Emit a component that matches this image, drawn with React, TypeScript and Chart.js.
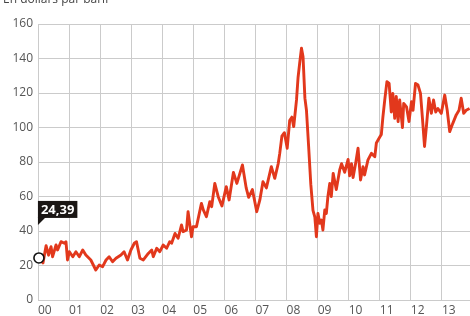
import React, { useEffect, useRef } from 'react';
import { Chart, registerables } from 'chart.js';

Chart.register(...registerables);

const unitTitle = 'En dollars par baril';
const calloutText = '24,39';
const tickLabels = ['00', '01', '02', '03', '04', '05', '06', '07', '08', '09', '10', '11', '12', '13'];
const yTicks = [0, 20, 40, 60, 80, 100, 120, 140, 160];

const yearPos = [
  2000.03, 2000.16, 2000.26, 2000.34, 2000.42, 2000.47, 2000.58, 2000.63, 2000.74, 2000.85, 2000.90, 2000.95,
  2001.01, 2001.12, 2001.22, 2001.33, 2001.44, 2001.54, 2001.70, 2001.86, 2001.97,
  2002.08, 2002.19, 2002.29, 2002.40, 2002.51, 2002.67, 2002.77, 2002.88, 2002.99,
  2003.10, 2003.17, 2003.28, 2003.39, 2003.55, 2003.66, 2003.71, 2003.82, 2003.92,
  2004.03, 2004.14, 2004.24, 2004.30, 2004.41, 2004.51, 2004.62, 2004.67, 2004.78, 2004.83, 2004.94, 2004.99,
  2005.10, 2005.26, 2005.32, 2005.42, 2005.53, 2005.59, 2005.69, 2005.80, 2005.92,
  2006.06, 2006.15, 2006.29, 2006.40, 2006.58, 2006.70, 2006.78, 2006.90, 2006.96,
  2007.04, 2007.14, 2007.24, 2007.35, 2007.51, 2007.62, 2007.73, 2007.78, 2007.85, 2007.93,
  2008.02, 2008.10, 2008.17, 2008.23, 2008.32, 2008.37, 2008.42, 2008.48, 2008.53, 2008.59, 2008.64, 2008.71, 2008.78, 2008.85, 2008.91, 2008.96,
  2009.01, 2009.07, 2009.12, 2009.17, 2009.23, 2009.28, 2009.33, 2009.39, 2009.44, 2009.50, 2009.60, 2009.71, 2009.77, 2009.87, 2009.98,
  2010.03, 2010.09, 2010.14, 2010.23, 2010.30, 2010.38, 2010.46, 2010.51, 2010.62, 2010.73, 2010.84, 2010.89,
  2011.00, 2011.05, 2011.10, 2011.16, 2011.23, 2011.30, 2011.37, 2011.42, 2011.48, 2011.53, 2011.59, 2011.64, 2011.73, 2011.77, 2011.86, 2011.94,
  2012.02, 2012.07, 2012.15, 2012.23, 2012.31, 2012.37, 2012.44, 2012.50, 2012.58, 2012.66, 2012.73, 2012.80, 2012.87, 2012.98,
  2013.09, 2013.17, 2013.25, 2013.35, 2013.46, 2013.55, 2013.62, 2013.70, 2013.78, 2013.89,
];

const prices = [
  24.39, 21.5, 31.5, 26, 30.9, 25.1, 31.9, 29, 33.8, 32.9, 33.8, 23.2,
  28, 25.1, 28, 25.1, 29, 26.1, 23.2, 17.4, 20.3,
  19.3, 23.2, 25.1, 22.2, 24.2, 26.1, 28, 23.2, 29,
  32.9, 33.8, 24.2, 23.2, 27, 29, 25.1, 30, 28,
  31.9, 30, 33.8, 32.9, 38.6, 35.8, 43.5, 39.6, 40.6, 51.2, 36.7, 42.5,
  42.5, 56, 52.2, 48.3, 57, 54.1, 67.6, 59.9, 54.5,
  65.7, 58, 74, 67.6, 78.3, 65, 59.5, 64, 58.5,
  51.2, 58, 68.6, 65, 77.3, 70.5, 79, 85, 95, 97,
  88, 104, 106, 100.5, 116, 129, 137, 146, 141, 117, 110, 89, 67, 52, 48, 36.7,
  50.2, 44.5, 46.4, 40.6, 52.2, 50.2, 59.9, 67.6, 60, 73.4, 64, 75.4, 79, 74, 81.5,
  72, 79, 71, 80, 88, 69.6, 77.3, 72.5, 81.2, 85, 83.1, 91,
  94.5, 96, 106, 116, 126.6, 125.6, 109, 119.8, 105.3, 118, 103.4, 116, 100, 114, 112, 103.4,
  115, 110, 125.6, 124.6, 119.8, 106, 89, 100.5, 117, 108.2, 116, 109, 111, 108.2,
  118.8, 110, 97.6, 102.4, 107.3, 110, 117, 108.2, 110, 111,
];

const FONT = "'Open Sans', sans-serif";
const LINE_COLOR = '#e2381c';
const GRID_COLOR = '#cbcbcb';
const TEXT_COLOR = '#555555';

const decorPlugin = {
  id: 'decor',
  afterDraw(chart: any) {
    const ctx = chart.ctx;
    const xs = chart.scales.x;
    const ys = chart.scales.y;
    ctx.save();
    // cut-off unit title at the top
    ctx.fillStyle = '#444444';
    ctx.font = `12px ${FONT}`;
    ctx.textAlign = 'left';
    ctx.textBaseline = 'alphabetic';
    ctx.fillText(unitTitle, 3, 3);

    // circle marker on first value
    const px = xs.getPixelForValue(yearPos[0]);
    const py = ys.getPixelForValue(prices[0]);
    ctx.beginPath();
    ctx.arc(px, py, 5, 0, Math.PI * 2);
    ctx.fillStyle = '#ffffff';
    ctx.fill();
    ctx.lineWidth = 1.6;
    ctx.strokeStyle = '#111111';
    ctx.stroke();

    // callout box
    ctx.font = `bold 13px ${FONT}`;
    const tw = ctx.measureText(calloutText).width;
    const bw = tw + 6;
    const bh = 17;
    const bx = px - 1;
    const by = py - 57;
    ctx.fillStyle = '#1a1614';
    ctx.fillRect(bx, by, bw, bh);
    ctx.beginPath();
    ctx.moveTo(bx, by + bh - 1);
    ctx.lineTo(bx + 8, by + bh - 1);
    ctx.lineTo(bx, by + bh + 7);
    ctx.closePath();
    ctx.fill();
    ctx.fillStyle = '#ffffff';
    ctx.textAlign = 'center';
    ctx.textBaseline = 'middle';
    ctx.fillText(calloutText, bx + bw / 2, by + bh / 2 + 0.5);
    ctx.restore();
  },
};

export default function App() {
  const ref = useRef<HTMLCanvasElement | null>(null);

  useEffect(() => {
    if (!ref.current) return;
    const data = yearPos.map((x, i) => ({ x, y: prices[i] }));
    const chart = new Chart(ref.current, {
      type: 'line',
      data: {
        datasets: [
          {
            data,
            borderColor: LINE_COLOR,
            borderWidth: 2.9,
            pointRadius: 0,
            tension: 0,
            fill: false,
            borderJoinStyle: 'round',
          },
        ],
      },
      options: {
        responsive: false,
        animation: false,
        devicePixelRatio: 1,
        layout: { padding: { top: 24, right: 3, left: 0, bottom: 0 } },
        plugins: { legend: { display: false }, tooltip: { enabled: false }, title: { display: false } },
        scales: {
          x: {
            type: 'linear',
            min: 2000,
            max: 2014,
            afterFit: (s: any) => {
              s.height = 16;
            },
            afterBuildTicks: (s: any) => {
              s.ticks = tickLabels.map((_, i) => ({ value: 2000 + i })).concat([{ value: 2014 }]);
            },
            ticks: {
              align: 'start',
              padding: 3,
              color: TEXT_COLOR,
              font: { family: FONT, size: 12 },
              maxRotation: 0,
              autoSkip: false,
              callback: (v: any) => tickLabels[Math.round(v) - 2000] ?? '',
            },
            grid: { color: GRID_COLOR, lineWidth: 1, drawTicks: false },
            border: { display: false },
          },
          y: {
            min: 0,
            max: 160,
            afterFit: (s: any) => {
              s.width = 38;
            },
            afterBuildTicks: (s: any) => {
              s.ticks = yTicks.map((value) => ({ value }));
            },
            ticks: {
              padding: 5,
              color: TEXT_COLOR,
              font: { family: FONT, size: 12 },
            },
            grid: { color: GRID_COLOR, lineWidth: 1, drawTicks: false },
            border: { display: false },
          },
        },
      },
      plugins: [decorPlugin],
    } as any);
    return () => chart.destroy();
  }, []);

  return (
    <div style={{ position: 'fixed', left: 0, top: 0, width: 470, height: 316, overflow: 'hidden', background: '#fff' }}>
      <canvas ref={ref} width={476} height={316} style={{ display: 'block', width: 476, height: 316 }} />
    </div>
  );
}
